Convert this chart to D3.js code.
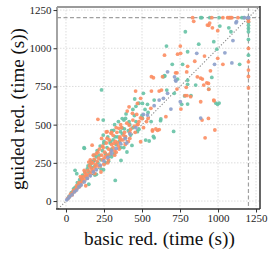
<!DOCTYPE html>
<html>
<head>
<meta charset="utf-8">
<script src="https://cdn.jsdelivr.net/npm/d3@7"></script>
<style>
  html, body { margin: 0; padding: 0; background: #fff; }
  svg { display: block; }
  text { font-family: "Liberation Serif", "DejaVu Serif", serif; }
</style>
</head>
<body>
<div id="chart"></div>
<script>
const xTicks = [0, 250, 500, 750, 1000, 1250]
const yTicks = [0, 250, 500, 750, 1000, 1250]
const timeout = 1200
const xLabel = 'basic red. (time (s))'
const yLabel = 'guided red. (time (s))'

// [basic, guided] per instance
const greenPts = [
  [886,1200],[946,1200],[1078,1200],[1171,1200],[1200,1200],[893,1200],[1007,1200],[1157,1200],
  [1200,1170],[1200,1150],[1200,1130],[1200,1108],[1200,1058],[1200,955],
  [785,1108],[1012,1145],[1085,1108],[1071,1134],[661,1014],[873,1027],[972,1043],[992,994],
  [800,977],[699,895],[1142,895],[641,813],[650,818],[800,791],[959,809],[780,688],[800,635],
  [985,641],[997,633],[1007,641],[939,733],[622,526],[767,895],[734,798],[648,820],[800,764],
  [853,759],[509,705],[663,726],[712,705],[822,690],[452,668],[503,639],[536,633],[580,661],
  [761,633],[503,541],[624,537],[470,454],[425,432],[524,399],[580,414],[708,456],[547,393],
  [575,423],[234,727],[245,530],[381,530],[392,541],[370,478],[359,454],[245,432],[323,421],
  [293,388],[249,377],[121,345],[187,268],[119,349],[60,201],[71,179],[324,135],[247,205],
  [362,266],[401,321],[434,364],[313,463],[384,473],
  [20,30],[35,55],[45,60],[60,90],[80,100],[90,140],[100,130],[110,170],[130,160],[140,210],
  [150,190],[160,240],[170,220],[180,260],[190,230],[200,290],[210,250],[220,300],[230,270],
  [240,330],[260,310],[270,350],[280,300],[290,380],[300,340],[310,400],[330,370],[340,420],
  [350,390],[370,440],[390,420],[410,460],[420,500],[440,480],[460,520],[480,470],[500,560],
  [520,600],[540,580],[560,520],[450,560],[380,350],[260,250],[300,290],[150,110],[200,175],
  [50,80],[75,120],[105,150],[125,190],[145,230],[165,260],[185,300],[205,330],[225,360],
  [250,390],[275,420],[300,460],[320,500],[345,520],[370,540],[395,570],[415,520],[440,600],
  [460,620],[480,640],[230,210],[280,260],[320,310],[360,350],[190,170]
]
const orangePts = [
  [833,1200],[1032,1200],[1091,1200],[1131,1200],[959,1200],[1063,1200],[1072,1200],[1085,1200],
  [1200,1190],[1200,1176],[1200,999],[1200,911],[1200,857],[1200,815],[1200,740],
  [840,1176],[939,1150],[945,1165],[998,1115],[930,1152],[963,1134],[752,1014],[648,955],
  [734,961],[754,967],[911,949],[998,934],[800,882],[847,915],[1032,895],[730,839],[721,839],
  [575,807],[794,845],[886,804],[950,852],[926,774],[939,731],[791,744],[820,683],[886,650],
  [972,661],[937,541],[864,813],[897,798],[937,770],[906,759],[974,656],[895,530],[979,465],
  [915,414],[562,814],[635,814],[458,720],[562,720],[613,720],[628,726],[730,733],[783,690],
  [796,690],[491,672],[470,639],[558,607],[415,617],[437,574],[465,567],[540,541],[657,552],
  [756,602],[474,502],[415,497],[569,465],[591,472],[613,468],[491,388],[569,458],[602,463],
  [210,535],[403,589],[348,476],[271,454],[296,443],[234,410],[355,410],[315,377],[392,421],
  [172,366],[170,249],[265,452],
  [10,15],[20,25],[30,45],[40,40],[50,70],[60,65],[70,100],[75,85],[85,120],[95,110],
  [100,150],[105,125],[115,160],[120,140],[125,185],[135,175],[140,150],[145,200],[155,230],
  [160,180],[165,215],[175,250],[180,200],[185,275],[195,240],[200,310],[205,260],[215,280],
  [220,340],[225,230],[235,300],[245,350],[250,280],[255,320],[265,380],[270,300],[280,340],
  [285,400],[295,330],[300,370],[310,430],[320,300],[325,390],[335,450],[345,360],[355,420],
  [365,480],[375,400],[385,450],[400,510],[410,390],[425,470],[440,530],[455,450],[470,500],
  [490,545],[510,480],[530,520],[230,190],[275,250],[330,320],[390,370],[130,100],
  [45,55],[65,80],[90,95],[110,135],[130,165],[150,170],[170,195],[190,220],[210,230],
  [240,270],[260,290],[290,310],[310,350],[340,380],[360,400],[380,430],[420,450],[450,490],
  [480,520],[500,540],[150,255],[180,300],[210,320],[240,360],[270,410],[300,450],[330,480],
  [360,500],[190,180],[250,240],[280,270],[320,330],[350,340],[420,410],[120,200],[160,270],
  [95,160]
]
const bluePts = [
  [5,8],[15,18],[25,30],[40,42],[55,60],[70,72],[85,92],[100,105],[120,125],[140,148],
  [160,165],[180,190],[200,205],[225,235],[250,262],[275,285],[300,310],[330,345],[360,375],
  [390,410],[420,440],[460,480],[400,380],[300,330],[509,567],[536,563],[580,624],[613,661],
  [641,672],[668,705],[690,602],[714,813],[721,791],[723,785],[668,846],[752,650],[860,967],
  [886,543],[977,895],[1045,970],[1091,904],[1098,1050],[1118,1167],[1122,1174],[1173,1200],
  [1197,1200],[1200,1200]
]

const series = [
  { pts: greenPts, color: '#66c2a5' },
  { pts: orangePts, color: '#fc8d62' },
  { pts: bluePts, color: '#8da0cb' }
]

const W = 274, H = 254
const box = { left: 57, right: 260, top: 7, bottom: 209 }

const svg = d3.select('#chart').append('svg')
  .attr('width', W).attr('height', H)

const x = d3.scaleLinear().domain([-59, 1276]).range([box.left, box.right])
const y = d3.scaleLinear().domain([-52, 1270]).range([box.bottom, box.top])

// grid
svg.append('g').selectAll('line').data(xTicks).enter().append('line')
  .attr('x1', d => x(d)).attr('x2', d => x(d))
  .attr('y1', box.top).attr('y2', box.bottom)
  .attr('stroke', '#d4d4d4').attr('stroke-width', 0.8).attr('stroke-dasharray', '1.5,1.5')
svg.append('g').selectAll('line').data(yTicks).enter().append('line')
  .attr('y1', d => y(d)).attr('y2', d => y(d))
  .attr('x1', box.left).attr('x2', box.right)
  .attr('stroke', '#d4d4d4').attr('stroke-width', 0.8).attr('stroke-dasharray', '1.5,1.5')

// timeout lines
svg.append('line')
  .attr('x1', box.left).attr('x2', box.right)
  .attr('y1', y(timeout)).attr('y2', y(timeout))
  .attr('stroke', '#a0a0a0').attr('stroke-width', 1.2).attr('stroke-dasharray', '4,2.5')
svg.append('line')
  .attr('x1', x(timeout)).attr('x2', x(timeout))
  .attr('y1', box.top).attr('y2', box.bottom)
  .attr('stroke', '#a0a0a0').attr('stroke-width', 1.2).attr('stroke-dasharray', '4,2.5')

// y = x
const lo = Math.max(x.domain()[0], y.domain()[0])
const hi = Math.min(x.domain()[1], y.domain()[1])
svg.append('line')
  .attr('x1', x(lo)).attr('y1', y(lo))
  .attr('x2', x(hi)).attr('y2', y(hi))
  .attr('stroke', '#8a8a8a').attr('stroke-width', 1.1).attr('stroke-dasharray', '1.2,1.8')

// points
series.forEach(s => {
  svg.append('g').selectAll('circle').data(s.pts).enter().append('circle')
    .attr('cx', d => x(d[0])).attr('cy', d => y(d[1]))
    .attr('r', 1.9)
    .attr('fill', s.color).attr('opacity', 0.9)
})

// spines
svg.append('line').attr('x1', box.left).attr('x2', box.right).attr('y1', box.top).attr('y2', box.top)
  .attr('stroke', '#9a9a9a').attr('stroke-width', 1.8)
svg.append('line').attr('x1', box.left).attr('x2', box.left).attr('y1', box.top).attr('y2', box.bottom)
  .attr('stroke', '#9a9a9a').attr('stroke-width', 1.8)
svg.append('line').attr('x1', box.left - 0.9).attr('x2', box.right).attr('y1', box.bottom).attr('y2', box.bottom)
  .attr('stroke', '#333').attr('stroke-width', 1.5)
svg.append('line').attr('x1', box.right).attr('x2', box.right).attr('y1', box.top - 0.9).attr('y2', box.bottom)
  .attr('stroke', '#333').attr('stroke-width', 1.5)

// axes
const gx = svg.append('g').attr('transform', `translate(0,${box.bottom})`)
  .call(d3.axisBottom(x).tickValues(xTicks).tickSize(3.5).tickPadding(2).tickFormat(d3.format('d')))
const gy = svg.append('g').attr('transform', `translate(${box.left},0)`)
  .call(d3.axisLeft(y).tickValues(yTicks).tickSize(3.5).tickPadding(2).tickFormat(d3.format('d')))
;[gx, gy].forEach(g => {
  g.select('.domain').remove()
  g.selectAll('.tick line').attr('stroke', '#333').attr('stroke-width', 1)
  g.selectAll('.tick text').attr('fill', '#222').attr('font-size', '11px')
    .attr('font-family', '"Liberation Serif", serif')
})

// axis titles, sized to the reference widths
const xt = svg.append('text')
  .attr('x', (box.left + box.right) / 2 + 1).attr('y', 245)
  .attr('text-anchor', 'middle').attr('fill', '#111').attr('font-size', '20px')
  .text(xLabel)
xt.attr('font-size', (20 * 151 / xt.node().getComputedTextLength()) + 'px')

const yt = svg.append('text')
  .attr('transform', `translate(24,${(box.top + box.bottom) / 2 + 1}) rotate(-90)`)
  .attr('text-anchor', 'middle').attr('fill', '#111').attr('font-size', '20px')
  .text(yLabel)
yt.attr('font-size', (20 * 162 / yt.node().getComputedTextLength()) + 'px')
</script>
</body>
</html>
